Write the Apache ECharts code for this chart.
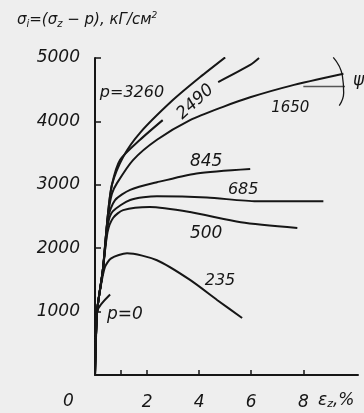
<!DOCTYPE html>
<html><head><meta charset="utf-8">
<script src="https://cdn.jsdelivr.net/npm/echarts@6/dist/echarts.min.js"></script>
<style>html,body{margin:0;padding:0;background:#eeeeee}#c{width:364px;height:413px}</style>
</head><body><div id="c"></div>
<script>
// Data (εz %, σi kГ/см²)
const xTickValues = [1, 2, 4, 6, 8];
const xLabelValues = [2, 4, 6, 8];
const yTickValues = [1000, 2000, 3000, 4000, 5000];
const p0    = [[0,0],[0.08,1000],[0.58,1270]];
const p235  = [[0,0],[0.08,1000],[0.2,1350],[0.38,1700],[0.62,1840],[1.23,1920],[2.38,1810],[3.65,1500],[4.7,1180],[5.65,900]];
const p500  = [[0,0],[0.08,1000],[0.3,1650],[0.48,2250],[0.7,2480],[1.08,2600],[2.1,2650],[3.65,2570],[5.6,2410],[7.77,2320]];
const p685  = [[0,0],[0.08,1000],[0.3,1650],[0.5,2380],[0.68,2580],[1.35,2760],[2.38,2820],[4.3,2800],[6.2,2740],[8.77,2740]];
const p845  = [[0,0],[0.08,1000],[0.3,1650],[0.5,2480],[0.77,2760],[1.35,2920],[2.38,3040],[3.9,3180],[5.96,3250]];
const p1650 = [[0,0],[0.08,1000],[0.3,1650],[0.5,2520],[0.65,2860],[0.85,3030],[1.46,3390],[2.38,3710],[3.65,4020],[4.92,4230],[5.96,4380],[7.5,4560],[9.54,4750]];
const p2490 = [[0,0],[0.08,1000],[0.3,1650],[0.5,2550],[0.65,3000],[0.96,3390],[1.73,3710],[2.6,4020],[null,null],[4.73,4620],[5.96,4890],[6.3,5000]];
const p3260 = [[0,0],[0.08,1000],[0.3,1650],[0.5,2550],[0.65,3000],[1.08,3440],[1.73,3820],[3.0,4340],[4.04,4700],[5.0,5010]];
const psiRef = [[8.0,4550],[9.6,4550]];
const psiArc = [[9.15,5010],[9.5,4720],[9.55,4450],[9.38,4250]];
// curve labels: [text, x, y, fontSize, rotation]
const curveLabels = [
  ['p=0', 1.15, 960, 17, 0],
  ['235', 4.8, 1480, 16, 0],
  ['500', 4.27, 2225, 17, 0],
  ['685', 5.69, 2920, 16, 0],
  ['845', 4.27, 3360, 17, 0],
  ['1650', 7.5, 4210, 15, 0],
  ['2490', 3.85, 4305, 17, 42],
  ['p=3260', 1.42, 4450, 16, 0]
];

const FONT = "'DejaVu Sans', sans-serif";
const INK = '#161616';
const curve = (data) => ({
  type: 'line', data: data, smooth: 0.25, symbol: 'none',
  connectNulls: false, clip: true,
  lineStyle: {color: INK, width: 2}
});

const chart = echarts.init(document.getElementById('c'), null, {renderer: 'canvas'});
const option = {
  backgroundColor: '#eeeeee',
  animation: false,
  grid: {left: 95, right: 6, top: 58, bottom: 38},
  xAxis: {
    type: 'value', min: 0, max: 10.1,
    axisLine: {show: true, lineStyle: {color: INK, width: 2}},
    axisTick: {show: true, inside: true, length: 5, customValues: xTickValues, lineStyle: {color: INK, width: 1.5}},
    axisLabel: {customValues: xLabelValues, margin: 19, color: INK, fontFamily: FONT, fontStyle: 'italic', fontSize: 17,
                formatter: v => String(v)},
    splitLine: {show: false}
  },
  yAxis: {
    type: 'value', min: 0, max: 5000,
    axisLine: {show: true, lineStyle: {color: INK, width: 2}},
    axisTick: {show: true, inside: true, length: 6, customValues: yTickValues, lineStyle: {color: INK, width: 1.5}},
    axisLabel: {customValues: yTickValues, margin: 15, color: INK, fontFamily: FONT, fontStyle: 'italic', fontSize: 17,
                formatter: v => String(v)},
    splitLine: {show: false}
  },
  series: [
    curve(p0), curve(p235), curve(p500), curve(p685), curve(p845), curve(p1650), curve(p2490), curve(p3260),
    {type: 'line', data: psiRef, symbol: 'none', clip: false, lineStyle: {color: '#555', width: 1.5}},
    {type: 'line', data: psiArc, smooth: 0.5, symbol: 'none', clip: false, lineStyle: {color: INK, width: 1.3}}
  ],
  graphic: [
    {type: 'text', left: 17, top: 11, style: {
      text: 'σ{s|i}=(σ{s|z} − p), кГ/см{u|2}', fill: INK, font: 'italic 15px ' + FONT,
      rich: {s: {fontSize: 10, fontStyle: 'italic', fontFamily: FONT, verticalAlign: 'bottom', padding: [8,0,0,0]},
             u: {fontSize: 9, fontStyle: 'italic', fontFamily: FONT, verticalAlign: 'top', padding: [0,0,8,0]}}}},
    {type: 'text', left: 63, top: 393, style: {text: '0', fill: INK, font: 'italic 17px ' + FONT}},
    {type: 'text', left: 318, top: 392, style: {
      text: 'ε{s|z},%', fill: INK, font: 'italic 17px ' + FONT,
      rich: {s: {fontSize: 11, fontStyle: 'italic', fontFamily: FONT, padding: [8,0,0,0]}}}},
    {type: 'text', left: 353, top: 72, style: {text: 'ψ', fill: INK, font: 'italic 17px ' + FONT}}
  ]
};
chart.setOption(option);
const labelGraphics = curveLabels.map(([t, x, y, fs, rot]) => {
  const p = chart.convertToPixel({gridIndex: 0}, [x, y]);
  return {type: 'text', x: p[0], y: p[1], rotation: rot * Math.PI / 180,
          style: {text: t, fill: INK, font: 'italic ' + fs + 'px ' + FONT, align: 'center', verticalAlign: 'middle'}};
});
chart.setOption({graphic: option.graphic.concat(labelGraphics)});
</script></body></html>
